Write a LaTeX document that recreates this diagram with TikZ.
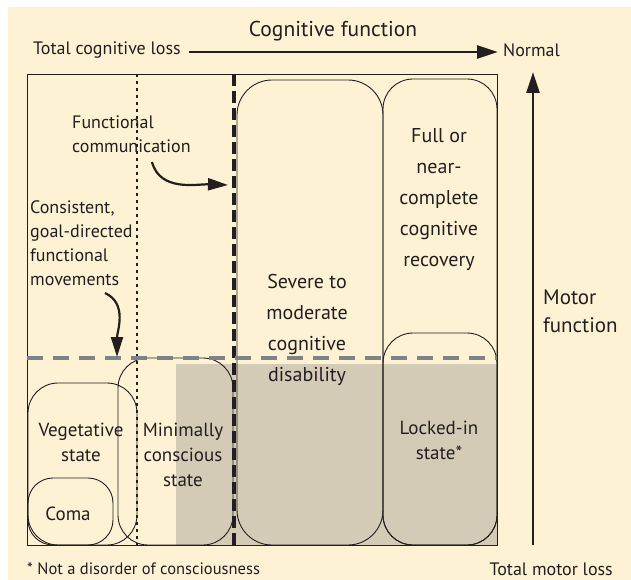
\documentclass[tikz,border=0pt]{standalone}
\usepackage{fontspec}
\setmainfont{PT Sans}
\usepackage{tikz}
\usetikzlibrary{arrows.meta}
\definecolor{cream}{HTML}{FEF2D5}
\definecolor{tan}{HTML}{D4CBB7}
\definecolor{midgray}{HTML}{808285}
\definecolor{ink}{HTML}{231F20}
\tikzstyle{region} = [rectangle, draw=ink, line width=0.9pt, rounded corners=30pt,
inner sep=0pt]
\tikzstyle{boxtext} = [text=ink, align=center, inner sep=0pt,
font=\fontsize{20}{31}\selectfont]
\tikzstyle{statetext} = [text=ink, align=center, inner sep=0pt,
font=\fontsize{19}{25}\selectfont]
\tikzstyle{notetext} = [text=ink, align=left, inner sep=0pt,
font=\fontsize{18}{24}\selectfont]
\tikzstyle{axistext} = [text=ink, inner sep=0pt, font=\fontsize{18}{22}\selectfont]
\tikzstyle{axis} = [ink, line width=2.6pt, -{Triangle[length=21pt,width=13pt]}]
\tikzstyle{callout} = [ink, line width=2.2pt, -{Triangle[length=20pt,width=12pt]}]

\begin{document}
\begin{tikzpicture}[x=1pt, y=-1pt]
  \useasboundingbox (0,0) rectangle (631,580);
  % Background and shaded area
  \fill[cream] (8,7) rectangle (631,580);
  \fill[tan] (176,364) rectangle (497,545);
  \draw[ink, line width=0.9pt] (27,74) rectangle (497,545);
  % Regions
  \node (severe) [region, rounded corners=35pt, minimum width=146pt,
                  minimum height=465pt] at (310,312.5) {};
  \node (full) [region, minimum width=114pt, minimum height=466pt] at (440,312) {};
  \node (locked) [region, minimum width=114pt, minimum height=212pt] at (440,439) {};
  \node (mcs) [region, minimum width=115pt, minimum height=187pt] at (175.5,451.5) {};
  \node (veg) [region, minimum width=109pt, minimum height=162pt] at (82.5,464) {};
  \node (coma) [region, rounded corners=25pt, minimum width=85pt,
                minimum height=67pt] at (70.5,511.5) {};
  % Thresholds
  \draw[ink, line width=2.2pt, dash pattern=on 3pt off 4pt] (137,74) -- (137,545);
  \draw[ink, line width=4.5pt, dash pattern=on 12pt off 5pt] (234,74) -- (234,545);
  \draw[midgray, line width=4pt, dash pattern=on 16pt off 10pt] (27,358) -- (497,358);
  % Labels
  \node (severelbl) [boxtext] at (307,330)
        {Severe to\\moderate\\cognitive\\disability};
  \node (fulllbl) [boxtext] at (439,200)
        {Full or\\near-\\complete\\cognitive\\recovery};
  \node (lockedlbl) [statetext] at (439,440) {Locked-in\\state*};
  \node (veglbl) [statetext] at (81,442) {Vegetative\\state};
  \node (mcslbl) [statetext] at (183,455) {Minimally\\conscious\\state};
  \node (comalbl) [statetext] at (68,514) {Coma};
  \node (comm) [notetext, anchor=west] at (72,134) {Functional\\communication};
  \node (move) [notetext, anchor=west] at (30,243)
        {Consistent,\\goal-directed\\functional\\movements};
  % Axes
  \node (cogfun) [axistext, font=\fontsize{21.5}{24}\selectfont] at (333,31)
        {Cognitive function};
  \node (cogloss) [axistext, anchor=west] at (33,50) {Total cognitive loss};
  \node (normal) [axistext, anchor=west] at (503,50) {Normal};
  \node (motorfun) [axistext, align=left, anchor=west,
                    font=\fontsize{21}{28}\selectfont] at (543,311)
        {Motor\\function};
  \node (motorloss) [axistext, anchor=east] at (613,569) {Total motor loss};
  \node (footnote) [axistext, anchor=west, font=\fontsize{16.5}{20}\selectfont]
        at (27,569) {* Not a disorder of consciousness};
  \coordinate (motorbase) at (533,545);
  \coordinate (motortop) at (533,72);
  \coordinate (commtail) at (152,162);
  \coordinate (commtip) at (228,185);
  \coordinate (movetail) at (105,293);
  \coordinate (movetip) at (117,357);
  % Connections
  \draw [axis] ([xshift=8pt,yshift=-2pt]cogloss.east) -- ([xshift=-5pt,yshift=-2pt]normal.west);
  \draw [axis] (motorbase) -- (motortop);
  \draw [callout] (commtail) to[out=-75, in=178] (commtip);
  \draw [callout] (movetail) to[out=-25, in=90] (movetip);
\end{tikzpicture}
\end{document}
